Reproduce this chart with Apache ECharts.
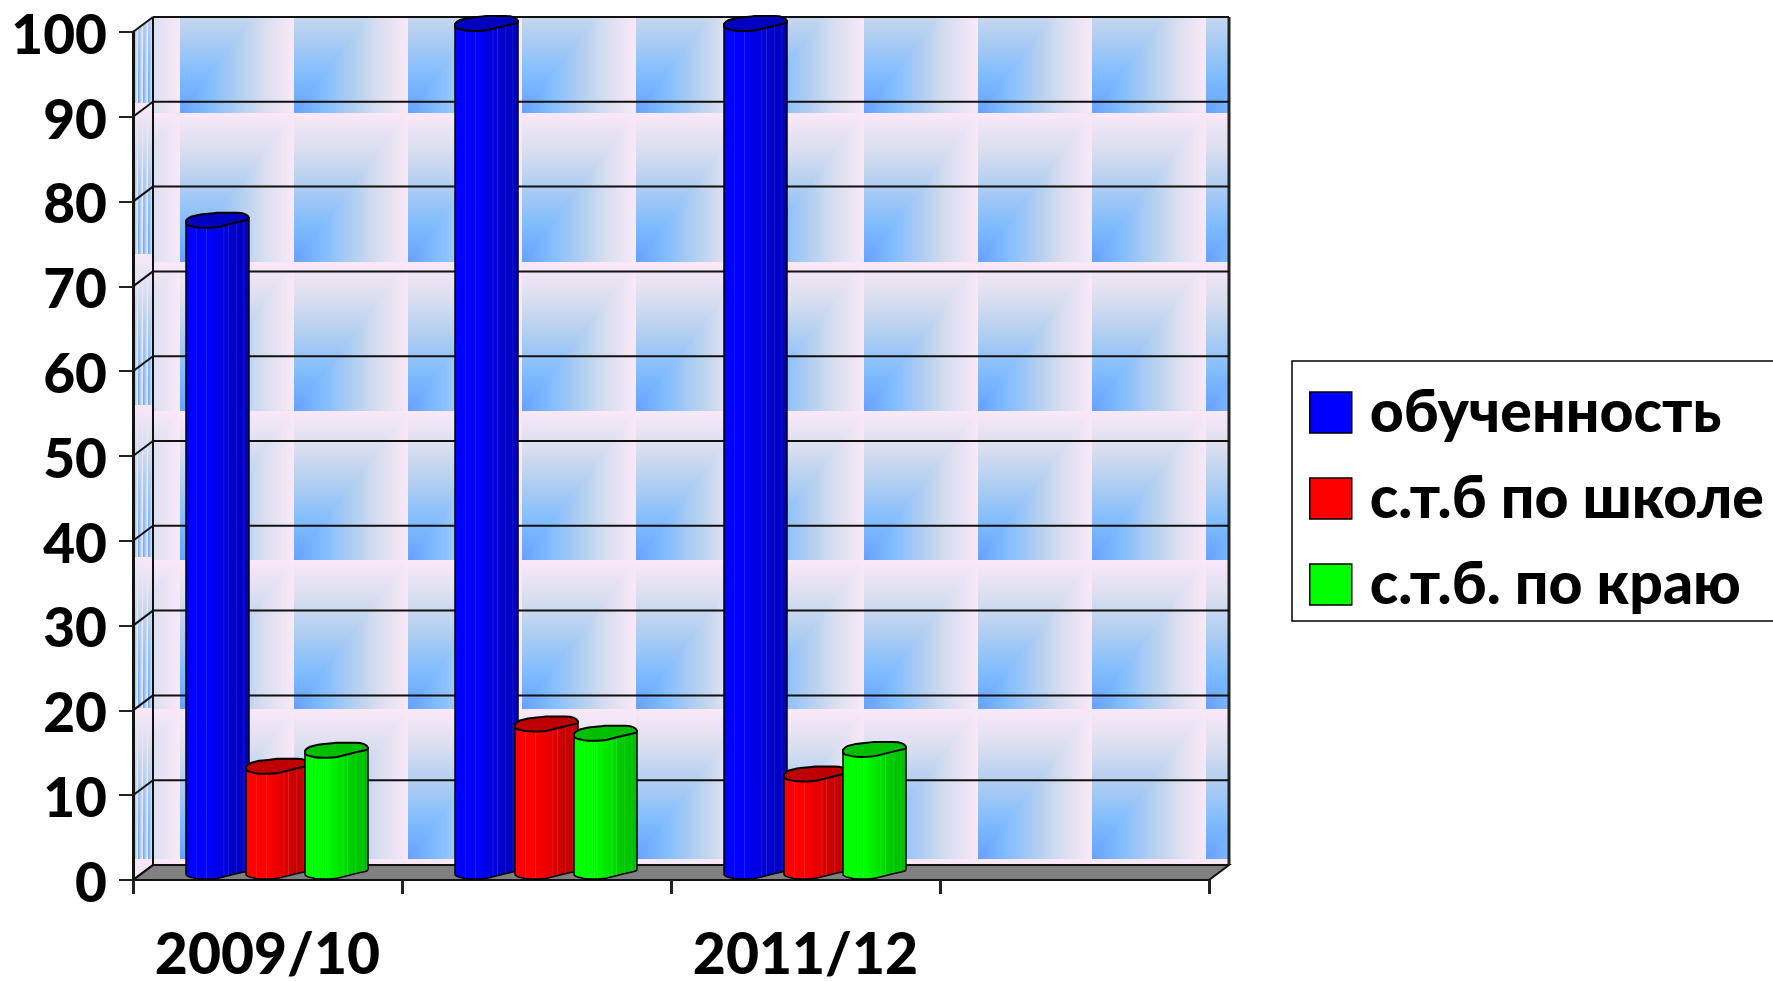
<!DOCTYPE html>
<html>
<head>
<meta charset="utf-8">
<title>chart</title>
<style>
html, body { margin: 0; padding: 0; background: #fff; overflow: hidden; }
#chart { width: 1773px; height: 981px; }
</style>
<script src="https://cdn.jsdelivr.net/npm/echarts@6/dist/echarts.min.js"></script>
</head>
<body>
<div id="chart"></div>
<script>
const categories = ['2009/10', '2010/11', '2011/12', '2012/13'];
const learned = [76.8, 100, 100];
const schoolAvg = [12.4, 17.4, 11.5];
const regionAvg = [14.3, 16.3, 14.4];
const yTicks = [0, 10, 20, 30, 40, 50, 60, 70, 80, 90, 100];
const seriesNames = ['обученность', 'с.т.б по школе', 'с.т.б. по краю'];

const fontFamily = 'Lato, "Noto Sans", sans-serif';
const depthX = 20;
const depthY = 15;
const tileW = 114;
const tileH = 150;

// one wallpaper tile: vertical fade above the diagonal, horizontal fade below it
function makeTile() {
    let c = document.createElement('canvas');
    c.width = tileW;
    c.height = tileH;
    let ctx = c.getContext('2d');
    let stops = [[0, '#66a0ff'], [0.25, '#80bcff'], [0.5, '#aecdf1'], [0.75, '#dadfef'], [1, '#fae8f8']];
    let g1 = ctx.createLinearGradient(0, tileH, 0, 0);
    let g2 = ctx.createLinearGradient(0, 0, tileW, 0);
    stops.forEach(s => { g1.addColorStop(s[0], s[1]); g2.addColorStop(s[0], s[1]); });
    ctx.fillStyle = g1;
    ctx.fillRect(0, 0, c.width, c.height);
    ctx.beginPath();
    ctx.moveTo(0, tileH);
    ctx.lineTo(tileW, 0);
    ctx.lineTo(tileW, tileH);
    ctx.closePath();
    ctx.fillStyle = g2;
    ctx.fill();
    return c;
}
const tile = makeTile();

function makeBackWall(w, h) {
    let c = document.createElement('canvas');
    c.width = w;
    c.height = h;
    let ctx = c.getContext('2d');
    for (let y = 95.5 - 149.2; y < h; y += 149.2) {
        for (let x = 27 - tileW; x < w; x += tileW) {
            ctx.drawImage(tile, x, Math.round(y), tileW, Math.round(y + 149.2) - Math.round(y));
        }
    }
    return c;
}

function makeSideWall(h) {
    let c = document.createElement('canvas');
    c.width = depthX;
    c.height = h + depthY;
    let ctx = c.getContext('2d');
    ctx.beginPath();
    ctx.moveTo(0, depthY);
    ctx.lineTo(depthX, 0);
    ctx.lineTo(depthX, h);
    ctx.lineTo(0, h + depthY);
    ctx.closePath();
    ctx.clip();
    for (let y = 86 - 151.2; y < h + depthY; y += 151.2) {
        for (let x = 0; x < depthX; x += 5) {
            ctx.drawImage(tile, x, Math.round(y), 5, Math.round(y + 151.2) - Math.round(y));
        }
    }
    return c;
}

let wallCache = null;
function renderFrame(params, api) {
    let cs = params.coordSys;
    let v = api.value(0);
    let y = api.coord([0, v])[1];
    let left = cs.x;
    let right = cs.x + cs.width;
    let lineStyle = { stroke: '#111', lineWidth: 2, fill: null };
    let children = [];
    if (params.dataIndex === 0) {
        let top = cs.y - depthY;
        if (!wallCache) {
            wallCache = { back: makeBackWall(cs.width, cs.height), side: makeSideWall(cs.height) };
        }
        children.push({ type: 'image', style: { image: wallCache.back, x: left + depthX, y: top, width: cs.width, height: cs.height } });
        children.push({ type: 'image', style: { image: wallCache.side, x: left, y: top, width: depthX, height: cs.height + depthY } });
        children.push({
            type: 'polygon',
            shape: { points: [[left, y], [left + depthX, y - depthY], [right + depthX, y - depthY], [right, y]] },
            style: { fill: '#808080', stroke: '#111', lineWidth: 2 }
        });
        children.push({ type: 'line', shape: { x1: left + depthX, y1: top, x2: left + depthX, y2: y - depthY }, style: lineStyle });
        children.push({ type: 'line', shape: { x1: right + depthX, y1: top, x2: right + depthX, y2: y - depthY }, style: { stroke: '#222', lineWidth: 3 } });
    }
    children.push({ type: 'line', shape: { x1: left + depthX, y1: y - depthY, x2: right + depthX, y2: y - depthY }, style: lineStyle });
    children.push({ type: 'line', shape: { x1: left, y1: y, x2: left + depthX, y2: y - depthY }, style: lineStyle });
    return { type: 'group', children: children };
}

function shade(rgb, f) {
    return 'rgb(' + rgb.map(c => Math.round(c * f)).join(',') + ')';
}
function tint(rgb, f, t) {
    return 'rgb(' + rgb.map(c => Math.round(c * f + (255 - c * f) * t)).join(',') + ')';
}

const facetBands = [[0, 1], [0.36, 1], [0.46, 0.93], [0.62, 0.87], [0.72, 0.8], [1, 0.74]];
const facetLines = [0.17, 0.33, 0.6, 0.67, 0.8, 0.91];

function bandAt(p) {
    for (let i = 1; i < facetBands.length; i++) {
        if (p <= facetBands[i][0]) {
            let a = facetBands[i - 1];
            let b = facetBands[i];
            return a[1] + (b[1] - a[1]) * (p - a[0]) / (b[0] - a[0]);
        }
    }
    return 0.74;
}

// vertical facets of the cylinder, bright on the left and dark on the right
function facetGradient(rgb) {
    let stops = facetBands.map(b => ({ offset: b[0], color: shade(rgb, b[1]) }));
    facetLines.forEach(p => {
        stops.push({ offset: p - 0.012, color: shade(rgb, bandAt(p - 0.012)) });
        stops.push({ offset: p, color: tint(rgb, bandAt(p), 0.14) });
        stops.push({ offset: p + 0.012, color: shade(rgb, bandAt(p + 0.012)) });
    });
    stops.sort((a, b) => a.offset - b.offset);
    return new echarts.graphic.LinearGradient(0, 0, 1, 0, stops);
}

function cylinderRenderer(seriesIndex, rgb) {
    return function (params, api) {
        let cat = api.value(0);
        let val = api.value(1);
        let base = api.coord([cat, 0]);
        let top = api.coord([cat, val]);
        let x = Math.round(base[0] + (seriesIndex - 1) * 59.5 - 22);
        let yb = base[1] - 8;
        let yt = top[1] - 8;
        let p = (dx, dy, y0) => (x + dx) + ' ' + (y0 + dy);
        let lower = y0 => 'C' + p(63, -2, y0) + ' ' + p(63, -2, y0) + ' ' + p(62, -1, y0)
            + 'L' + p(49, 2, y0) + 'L' + p(33, 6, y0)
            + 'C' + p(28, 7, y0) + ' ' + p(24, 7, y0) + ' ' + p(19, 7, y0)
            + 'C' + p(14, 7, y0) + ' ' + p(10, 7, y0) + ' ' + p(8, 6, y0)
            + 'C' + p(4, 5, y0) + ' ' + p(0, 5, y0) + ' ' + p(0, 2, y0);
        let body = 'M' + p(0, 0, yt) + 'L' + p(0, 2, yb)
            + 'C' + p(0, 5, yb) + ' ' + p(4, 5, yb) + ' ' + p(8, 6, yb)
            + 'C' + p(10, 7, yb) + ' ' + p(14, 7, yb) + ' ' + p(19, 7, yb)
            + 'C' + p(24, 7, yb) + ' ' + p(28, 7, yb) + ' ' + p(33, 6, yb)
            + 'L' + p(49, 2, yb) + 'L' + p(62, -1, yb)
            + 'C' + p(63, -2, yb) + ' ' + p(63, -2, yb) + ' ' + p(63, -3, yb)
            + 'L' + p(63, -3, yt) + 'Z';
        let cap = 'M' + p(0, 0, yt)
            + 'C' + p(1, -2, yt) + ' ' + p(3, -3, yt) + ' ' + p(5, -4, yt)
            + 'L' + p(13, -6, yt)
            + 'C' + p(20, -7, yt) + ' ' + p(26, -7, yt) + ' ' + p(31, -8, yt)
            + 'L' + p(50, -8, yt)
            + 'C' + p(57, -8, yt) + ' ' + p(62, -6, yt) + ' ' + p(63, -3, yt)
            + lower(yt) + 'Z';
        return {
            type: 'group',
            children: [
                { type: 'path', shape: { pathData: body }, style: { fill: facetGradient(rgb), stroke: '#000', lineWidth: 1.5 } },
                { type: 'path', shape: { pathData: cap }, style: { fill: shade(rgb, 0.75), stroke: '#000', lineWidth: 2 } }
            ]
        };
    };
}

const seriesColors = [[0, 0, 255], [255, 0, 0], [0, 255, 0]];
const seriesValues = [learned, schoolAvg, regionAvg];

let chart = echarts.init(document.getElementById('chart'), null, { renderer: 'canvas' });
let option = {
    animation: false,
    backgroundColor: '#fff',
    grid: { left: 133, top: 32, width: 1076, height: 848, containLabel: false, outerBoundsMode: 'none' },
    xAxis: {
        type: 'category',
        data: categories,
        z: 3,
        axisLine: { lineStyle: { color: '#111', width: 2 } },
        axisTick: { show: true, length: 14, interval: 0, lineStyle: { color: '#222', width: 3 } },
        axisLabel: { interval: 1, margin: 47, color: '#000', fontFamily: fontFamily, fontWeight: 900, fontSize: 57 }
    },
    yAxis: {
        type: 'value',
        min: 0,
        max: 100,
        interval: 10,
        z: 3,
        axisLine: { show: true, lineStyle: { color: '#111', width: 3 } },
        axisTick: { show: true, length: 14, lineStyle: { color: '#222', width: 2 } },
        axisLabel: { margin: 26, verticalAlign: 'top', lineHeight: 8, color: '#000', fontFamily: fontFamily, fontWeight: 900, fontSize: 55 },
        splitLine: { show: false }
    },
    legend: {
        orient: 'vertical',
        left: 1292,
        top: 361,
        padding: [22, 30, 7, 17],
        itemWidth: 42,
        itemHeight: 41,
        itemGap: 27,
        borderColor: '#000',
        borderWidth: 1.5,
        backgroundColor: '#fff',
        data: seriesNames.map((name, i) => ({
            name: name,
            icon: 'rect',
            itemStyle: { color: shade(seriesColors[i], 1), borderColor: '#000', borderWidth: 1.5 }
        })),
        textStyle: { color: '#000', fontFamily: fontFamily, fontWeight: 900, fontSize: 59, lineHeight: 41, padding: [0, 0, 0, 13] }
    },
    series: [{
        type: 'custom',
        name: 'frame',
        z: 1,
        silent: true,
        coordinateSystem: 'cartesian2d',
        clip: false,
        encode: { y: 0 },
        data: yTicks.map(v => [v]),
        renderItem: renderFrame
    }].concat(seriesNames.map((name, i) => ({
        type: 'custom',
        name: name,
        z: 5 + i,
        coordinateSystem: 'cartesian2d',
        clip: false,
        encode: { x: 0, y: 1 },
        itemStyle: { color: shade(seriesColors[i], 1) },
        data: seriesValues[i].map((v, k) => [k, v]),
        renderItem: cylinderRenderer(i, seriesColors[i])
    })))
};
chart.setOption(option);
</script>
</body>
</html>
